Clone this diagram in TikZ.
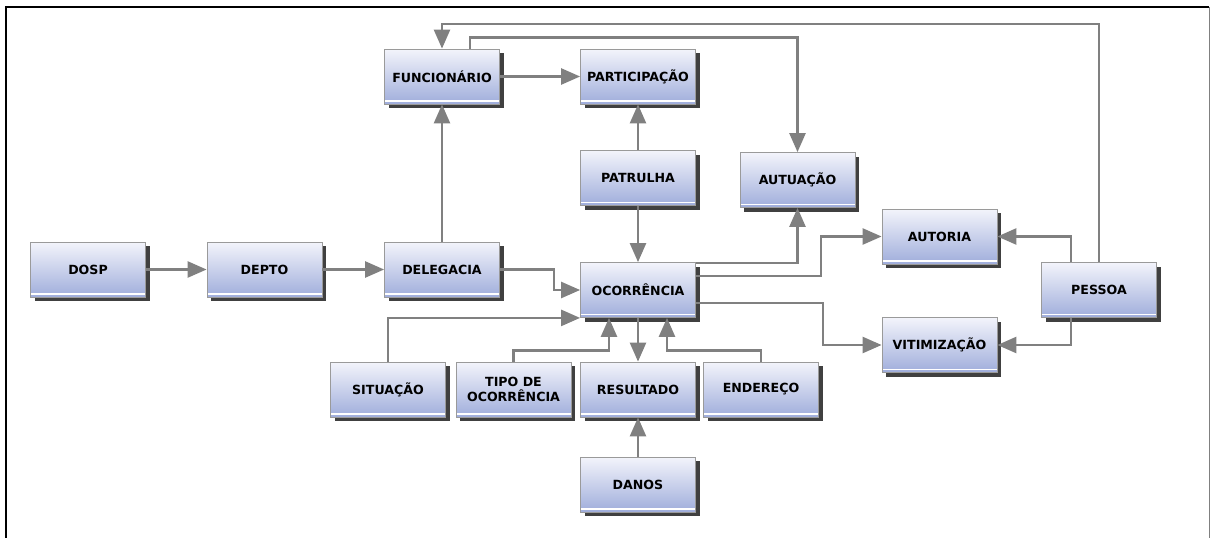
\documentclass[tikz,border=0pt]{standalone}
\usepackage{fontspec}
\setmainfont{DejaVu Sans}[BoldFont={DejaVu Sans Bold}]
\usetikzlibrary{arrows.meta,shadows,calc}
\definecolor{boxtop}{HTML}{F3F4FB}
\definecolor{boxbot}{HTML}{9FADDB}
\definecolor{linegray}{HTML}{808080}
\definecolor{shadowgray}{HTML}{404040}
\definecolor{bordergray}{HTML}{9A9A9A}
\tikzset{
  ent/.style={rectangle, draw=bordergray, line width=0.8pt,
    top color=boxtop, bottom color=boxbot,
    minimum width=115pt, minimum height=55pt, inner sep=2pt,
    align=center, font=\fontsize{12.6}{14.5}\selectfont\bfseries,
    drop shadow={shadow xshift=4pt, shadow yshift=-4pt, fill=shadowgray, opacity=1},
    path picture={\draw[white, line width=1.2pt]
      ([yshift=3pt]path picture bounding box.south west) --
      ([yshift=3pt]path picture bounding box.south east);}},
  conn/.style={draw=linegray, line width=2.5pt,
    -{Triangle[length=19pt, width=16pt]}},
}
\begin{document}
\begin{tikzpicture}[x=1pt, y=-1pt]
\useasboundingbox (0,0) rectangle (1210,538);
\fill[white] (0,0) rectangle (1210,538);
% frame
\draw[black, line width=2pt] (6,538) -- (6,7) -- (1209,7);
\draw[gray, line width=1pt] (1209,7) -- (1209,538);

% nodes
\node[ent] (dosp) at (88,269.5) {DOSP};
\node[ent] (depto) at (264.5,269.5) {DEPTO};
\node[ent] (deleg) at (442,269.5) {DELEGACIA};
\node[ent] (ocor) at (638,290) {OCORRÊNCIA};
\node[ent] (sit) at (388,389.5) {SITUAÇÃO};
\node[ent] (tipo) at (513.5,389.5) {TIPO DE\\OCORRÊNCIA};
\node[ent] (res) at (638,389.5) {RESULTADO};
\node[ent] (end) at (761,389.5) {ENDEREÇO};
\node[ent] (danos) at (638,484.5) {DANOS};
\node[ent] (func) at (442,76.5) {FUNCIONÁRIO};
\node[ent] (part) at (638,76.5) {PARTICIPAÇÃO};
\node[ent] (patr) at (638,178) {PATRULHA};
\node[ent] (autu) at (797.5,180) {AUTUAÇÃO};
\node[ent] (autor) at (939.5,236.5) {AUTORIA};
\node[ent] (pes) at (1099,290) {PESSOA};
\node[ent] (vit) at (939.5,345) {VITIMIZAÇÃO};

% connectors
\draw[conn] (dosp.east) -- (depto.west);
\draw[conn] (depto.east) -- (deleg.west);
\draw[conn] (deleg.north) -- (func.south);
\draw[conn] (func.east) -- (part.west);
\draw[conn] (patr.north) -- (part.south);
\draw[conn] (patr.south) -- (ocor.north);
\draw[conn] (deleg.east) -- ++(54,0) |- (ocor.west);
\draw[conn] (sit.north) |- (ocor.south west);
\draw[conn] (tipo.north) -- ++(0,-11) -| ([xshift=-29pt]ocor.south);
\draw[conn] (ocor.south) -- (res.north);
\draw[conn] (end.north) -- ++(0,-11) -| ([xshift=29pt]ocor.south);
\draw[conn] (danos.north) -- (res.south);
\draw[conn] ([yshift=-1pt]ocor.north east) -| (autu.south);
\draw[conn] ($(ocor.east)+(0,-14)$) -- ++(125,0) |- (autor.west);
\draw[conn] ($(ocor.east)+(0,13)$) -- ++(127,0) |- (vit.west);
\draw[conn] ([xshift=-28pt]pes.north) |- (autor.east);
\draw[conn] ([xshift=-28pt]pes.south) |- (vit.east);
\draw[conn] (pes.north) -- ++(0,-238) -| (func.north);
\draw[conn] ([xshift=28pt]func.north) -- ++(0,-11) -| (autu.north);
\end{tikzpicture}
\end{document}
